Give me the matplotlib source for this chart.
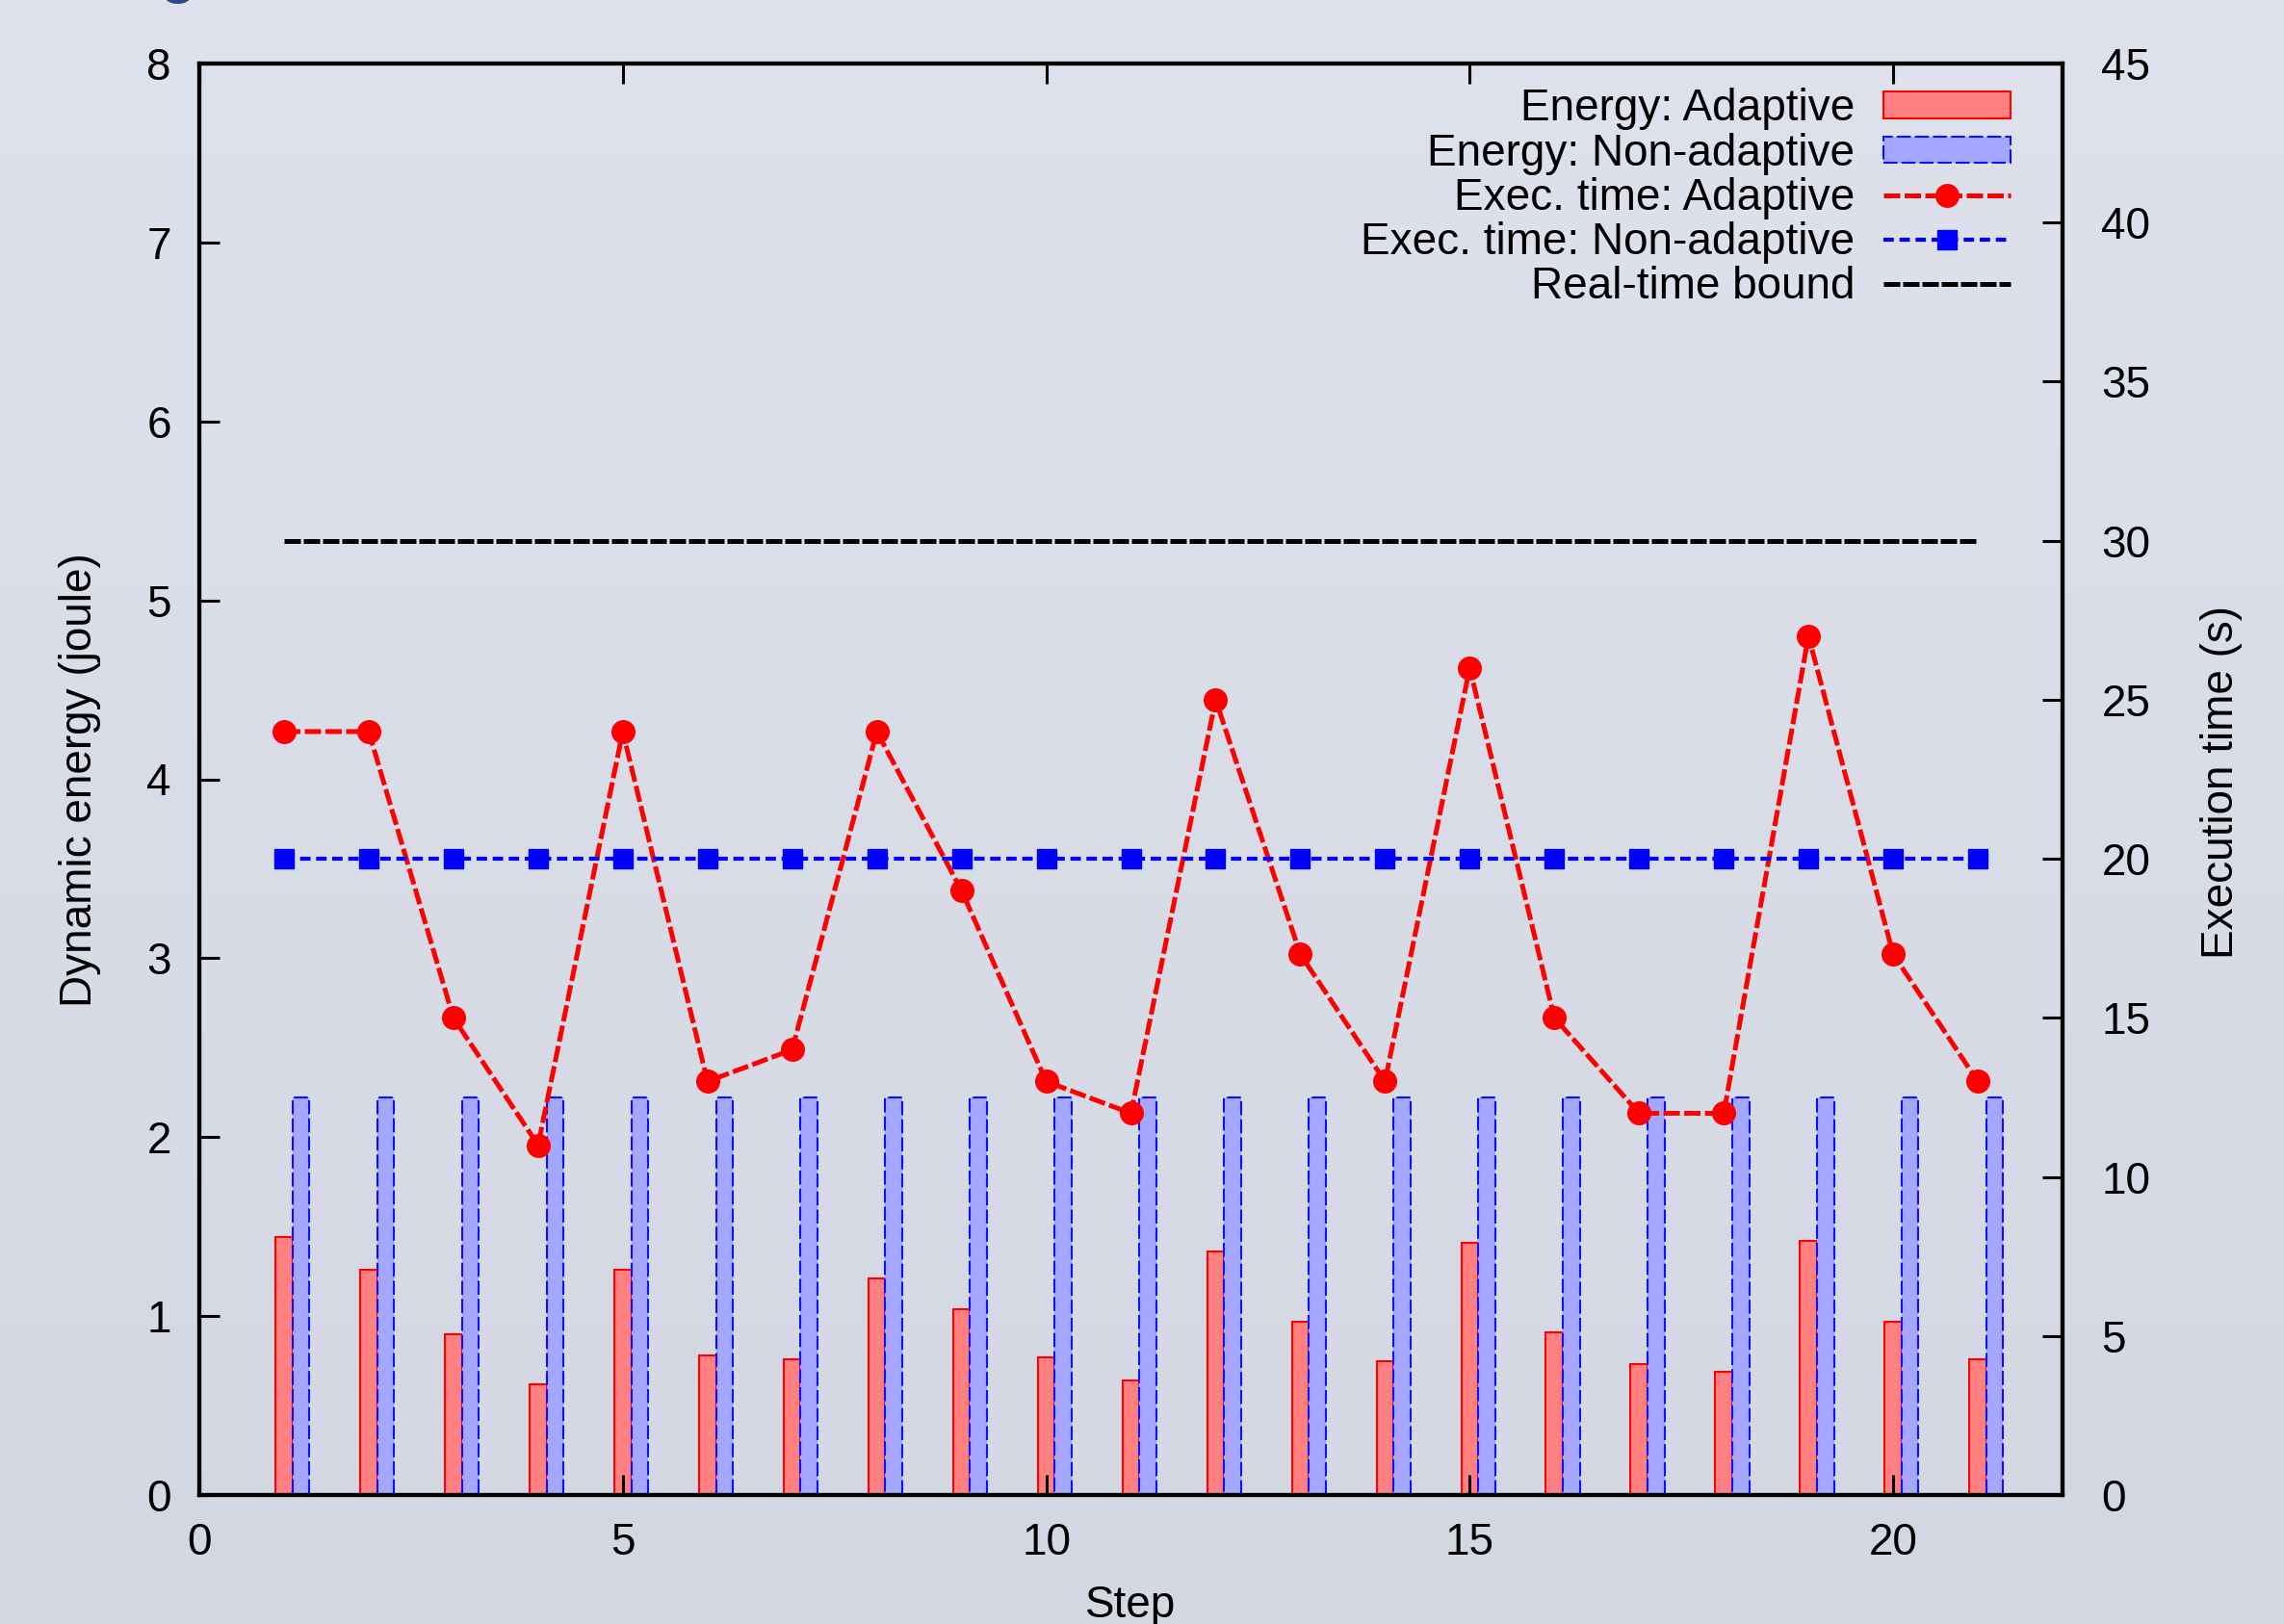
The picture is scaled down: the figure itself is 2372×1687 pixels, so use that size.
import numpy as np
import matplotlib
matplotlib.use("Agg")
import matplotlib.pyplot as plt
from matplotlib.colors import LinearSegmentedColormap

# values
steps = list(range(1, 22))
energy_adaptive = [1.44, 1.26, 0.90, 0.62, 1.26, 0.78, 0.76, 1.21, 1.04, 0.77, 0.64,
                   1.36, 0.97, 0.75, 1.41, 0.91, 0.73, 0.69, 1.42, 0.97, 0.76]
energy_nonadaptive = [2.22] * 21
time_adaptive = [24, 24, 15, 11, 24, 13, 14, 24, 19, 13, 12,
                 25, 17, 13, 26, 15, 12, 12, 27, 17, 13]
time_nonadaptive = [20] * 21
realtime_bound = 30

x_ticks = [0, 5, 10, 15, 20]
y_ticks = list(range(0, 9))
y2_ticks = list(range(0, 50, 5))

plt.rcParams['font.family'] = ['Liberation Sans', 'DejaVu Sans']
plt.rcParams['font.size'] = 33

W, H = 2372, 1687
fig = plt.figure(figsize=(W / 100, H / 100), dpi=100)

# soft background gradient
bg = fig.add_axes([0, 0, 1, 1], zorder=-10)
grad = np.linspace(0, 1, 256).reshape(-1, 1)
cmap = LinearSegmentedColormap.from_list("bg", ["#dfe2ec", "#d3d7e2"])
bg.imshow(grad, aspect="auto", cmap=cmap, extent=[0, 1, 0, 1], origin="upper")
bg.axis("off")

left, right, top, bottom = 207, 2142, 66, 1553
ax = fig.add_axes([left / W, 1 - bottom / H, (right - left) / W, (bottom - top) / H])
ax.patch.set_visible(False)

x = np.array(steps)
bw = 0.2
ax.bar(x, energy_adaptive, width=bw, color="#ff8080", edgecolor="#ff0000",
       linewidth=1.5, label="Energy: Adaptive")
ax.bar(x + bw, energy_nonadaptive, width=bw, color="#a5a7ff", edgecolor="#1010ff",
       linewidth=1.5, linestyle=(0, (7, 2)), label="Energy: Non-adaptive")
ax.set_xlim(0, 22)
ax.set_ylim(0, 8)
ax.set_xticks(x_ticks)
ax.set_yticks(y_ticks)

ax2 = ax.twinx()
ax2.plot(x, time_adaptive, color="#ff0000", lw=3.6, ls=(0, (3.4, 0.9)),
         marker="o", ms=17, label="Exec. time: Adaptive")
ax2.plot(x, time_nonadaptive, color="#0000ff", lw=3.0, ls=(0, (2.6, 1.4)),
         marker="s", ms=15, label="Exec. time: Non-adaptive")
ax2.plot(x, [realtime_bound] * len(x), color="black", lw=3.6, ls=(0, (3.4, 0.6)),
         label="Real-time bound")
ax2.set_ylim(0, 45)
ax2.set_yticks(y2_ticks)

for a in (ax, ax2):
    for s in a.spines.values():
        s.set_linewidth(3.0)

ax.tick_params(axis="x", top=True, direction="in", length=15, width=2.2, pad=20)
ax.tick_params(axis="y", right=False, direction="in", length=15, width=2.2, pad=21)
ax2.tick_params(axis="y", direction="in", length=15, width=2.2, pad=29)

fig.text(83 / W, 1 - 810 / H, "Dynamic energy (joule)", rotation=90,
         ha="center", va="center")
fig.text(2307 / W, 1 - 812 / H, "Execution time (s)", rotation=90,
         ha="center", va="center")
fig.text(1174 / W, 1 - 1646 / H, "Step", ha="center", va="top")
# descender of the clipped heading above the plot
fig.text(185 / W, 1.0045, "g", fontsize=43, fontweight="bold", color="#2b4a8a",
         ha="center", va="baseline")

h1, l1 = ax.get_legend_handles_labels()
h2, l2 = ax2.get_legend_handles_labels()
ax2.legend(h1 + h2, l1 + l2, loc="upper right", bbox_to_anchor=(0.972, 0.983),
           frameon=False, markerfirst=False, handlelength=2.87, handletextpad=0.65,
           handleheight=0.55, labelspacing=0.05, borderpad=0, borderaxespad=0,
           numpoints=1, fontsize=33)

fig.savefig("out.png", dpi=100)
